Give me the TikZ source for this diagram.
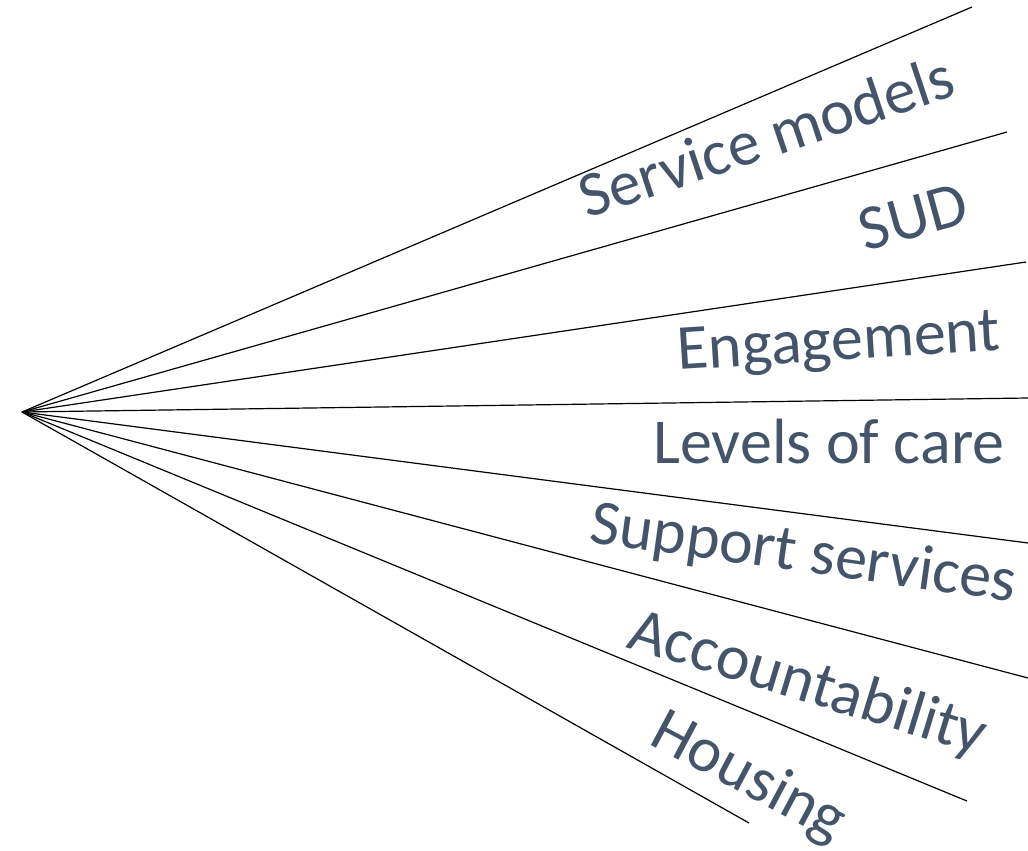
\documentclass[tikz,border=0pt]{standalone}
\usepackage{fontspec}
\setmainfont{Carlito}
\usepackage{tikz}

\definecolor{slate}{HTML}{44546A}

\tikzset{
  spoke/.style={line width=0.6pt, black},
  topic/.style={inner sep=0pt, text=slate, font=\fontsize{32}{38}\selectfont}
}

\begin{document}
\begin{tikzpicture}[x=0.5pt, y=-0.5pt]

    \useasboundingbox (0,0) rectangle (1028,851);

    \coordinate (hub) at (22,412);

    \coordinate (end1) at (972,7);
    \coordinate (end2) at (1007,132);
    \coordinate (end3) at (1026,262);
    \coordinate (end4) at (1028,398);
    \coordinate (end5) at (1028,543);
    \coordinate (end6) at (1028,678);
    \coordinate (end7) at (967,801);
    \coordinate (end8) at (749,823);

    \draw[spoke] (hub) -- (end1);
    \draw[spoke] (hub) -- (end2);
    \draw[spoke] (hub) -- (end3);
    \draw[spoke] (hub) -- (end4);
    \draw[spoke] (hub) -- (end5);
    \draw[spoke] (hub) -- (end6);
    \draw[spoke] (hub) -- (end7);
    \draw[spoke] (hub) -- (end8);

    \node[topic, anchor=base west, rotate=18.5] (models) at (587,219) {Service models};

    \node[topic, anchor=base east, rotate=15.4] (sud) at (972,222) {SUD};

    \node[topic, anchor=base west, rotate=3.6] (engage) at (678,370) {Engagement};

    \node[topic, anchor=base west] (levels) at (653,463) {Levels of care};

    \node[topic, anchor=base west, rotate=-8] (support) at (588,542) {Support services};

    \node[topic, anchor=base west, rotate=-17] (account) at (625,647) {Accountability};

    \node[topic, anchor=base west, rotate=-28] (housing) at (647,743) {Housing};

  \end{tikzpicture}
\end{document}
